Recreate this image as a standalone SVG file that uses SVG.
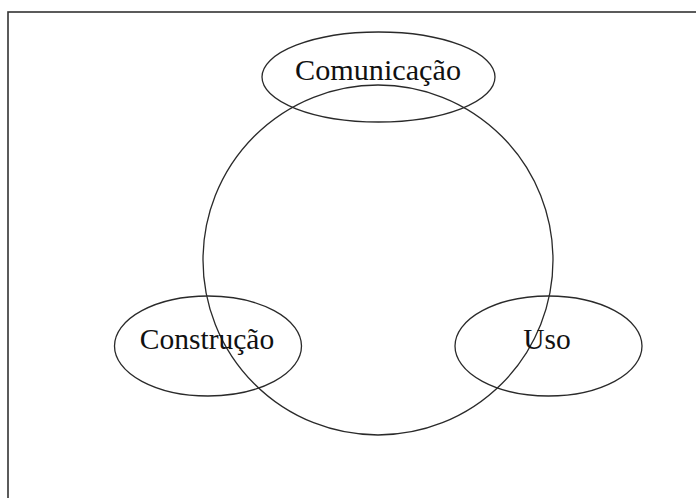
<svg xmlns="http://www.w3.org/2000/svg" width="696" height="498" viewBox="0 0 696 498">
<style>
.shape{fill:none;stroke:#2a2a2a;stroke-width:1.3}
.lbl{font-family:"Liberation Serif","Times New Roman",serif;font-size:29.5px;fill:#111;text-anchor:middle}
</style>
<rect x="0" y="0" width="696" height="498" fill="#fff"/>
<rect x="8" y="12" width="720" height="520" fill="none" stroke="#333" stroke-width="1.6"/>
<g id="connectors">
<circle class="shape" cx="378" cy="260" r="175"/>
</g>
<g id="comunicacao">
<ellipse class="shape" cx="378.5" cy="77" rx="116.5" ry="45"/>
<text class="lbl" x="378" y="80" textLength="166" lengthAdjust="spacingAndGlyphs">Comunicação</text>
</g>
<g id="construcao">
<ellipse class="shape" cx="208" cy="346" rx="93.5" ry="50"/>
<text class="lbl" x="207" y="349">Construção</text>
</g>
<g id="uso">
<ellipse class="shape" cx="548.5" cy="346" rx="93.5" ry="50"/>
<text class="lbl" x="547" y="349">Uso</text>
</g>
</svg>
